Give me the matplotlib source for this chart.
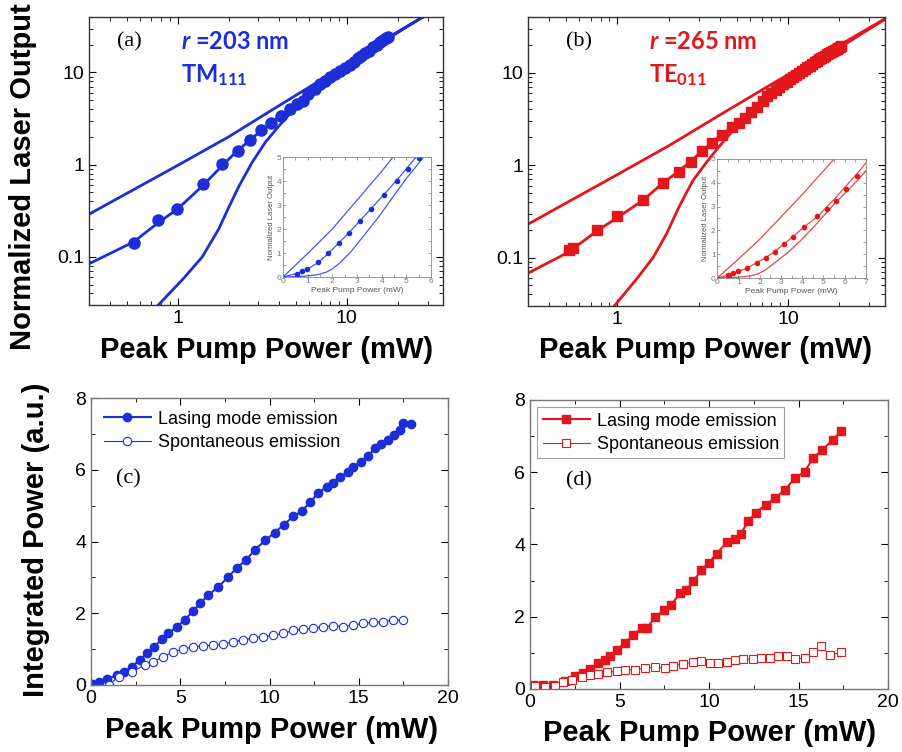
import numpy as np
import matplotlib
matplotlib.use("Agg")
import matplotlib.pyplot as plt
from matplotlib.ticker import FixedLocator, FixedFormatter, NullFormatter, LogLocator, MultipleLocator

plt.rcParams["font.family"] = ["Liberation Sans", "DejaVu Sans"]
plt.rcParams["mathtext.fontset"] = "custom"
plt.rcParams["mathtext.rm"] = "Lato:bold"
plt.rcParams["mathtext.it"] = "Lato:bold:italic"
plt.rcParams["mathtext.bf"] = "Lato:bold"

BLUE = "#1c2ed8"
RED = "#e3161c"

# ---- panel (a): r = 203 nm, TM111 (log-log) ----
a_x = [0.55, 0.77, 0.99, 1.42, 1.84, 2.26, 2.68, 3.12, 3.57, 4.11, 4.62, 5.06, 5.5, 5.93,
       6.48, 6.94, 7.43, 7.94, 8.5, 9.1, 9.73, 10.4, 11.0, 11.7, 12.2, 12.8, 13.5, 14.3,
       15.0, 15.6, 16.4, 17.1, 17.5]
a_y = [0.14, 0.25, 0.33, 0.62, 1.02, 1.42, 1.84, 2.35, 2.84, 3.4, 4.02, 4.5, 4.95, 5.85,
       6.62, 7.5, 8.15, 8.87, 9.63, 10.5, 11.1, 12.1, 13.1, 14.3, 15.2, 16.1, 17.2, 18.8,
       19.9, 21.2, 22.5, 23.5, 24.1]
a_up_x = [0.3, 1, 2, 4, 8, 15, 28, 32]
a_up_y = [0.29, 0.98, 2.0, 4.4, 9.6, 19.5, 40, 46]
a_mid_x = [0.3, 0.55, 0.77, 1.0, 1.42, 1.84, 2.26, 2.68, 3.12, 3.57, 4.11, 4.75, 5.4, 6.5,
           8, 10, 13, 17.5, 32]
a_mid_y = [0.084, 0.145, 0.235, 0.33, 0.6, 0.98, 1.42, 1.85, 2.34, 2.85, 3.45, 4.2, 5.0, 6.6,
           8.8, 11.9, 16.6, 23.8, 46]
a_lo_x = [0.77, 1.1, 1.4, 1.75, 2.0, 2.3, 2.75, 3.3, 3.95, 4.5, 5.0, 5.7, 6.5, 8, 10, 13,
          17.5, 32]
a_lo_y = [0.03, 0.06, 0.1, 0.2, 0.34, 0.58, 1.05, 1.75, 2.6, 3.4, 4.1, 5.0, 6.2, 8.6, 11.8,
          16.5, 23.8, 46]

# ---- panel (b): r = 265 nm, TE011 (log-log) ----
b_x = [0.52, 0.55, 0.76, 0.99, 1.42, 1.86, 2.29, 2.72, 3.15, 3.58, 4.1, 4.7, 5.15, 5.6,
       6.05, 6.6, 7.1, 7.55, 8.0, 8.45, 8.9, 9.35, 9.8, 10.25, 10.7, 11.15, 11.6, 12.05,
       12.5, 12.95, 13.4, 13.85, 14.3, 14.75, 15.2, 15.65, 16.1, 16.55, 17.0, 17.45, 17.9,
       18.35, 18.8, 19.25, 19.7, 20.1, 20.4]
b_y = [0.12, 0.127, 0.2, 0.28, 0.42, 0.64, 0.84, 1.09, 1.42, 1.72, 2.14, 2.6, 2.88, 3.25,
       3.72, 4.3, 5.0, 5.55, 6.05, 6.55, 7.0, 7.55, 8.0, 8.5, 9.0, 9.55, 10.0, 10.5, 11.0,
       11.5, 11.95, 12.45, 12.9, 13.4, 13.9, 14.3, 14.8, 15.3, 15.8, 16.3, 16.8, 17.2, 17.7,
       18.2, 18.7, 19.1, 19.5]
b_up_x = [0.3, 1, 2, 4, 8, 15, 30, 40]
b_up_y = [0.23, 0.79, 1.62, 3.5, 7.5, 14.6, 30.6, 41.6]
b_mid_x = [0.3, 0.52, 0.76, 1.0, 1.42, 1.83, 2.27, 2.7, 3.1, 3.55, 4.1, 4.75, 5.6, 6.6, 7.2,
           9, 12, 16, 20.4, 40]
b_mid_y = [0.068, 0.115, 0.195, 0.27, 0.42, 0.63, 0.85, 1.1, 1.4, 1.72, 2.15, 2.6, 3.4, 4.4,
           5.05, 7.0, 10.2, 14.5, 19.3, 41.6]
b_lo_x = [0.96, 1.29, 1.62, 1.94, 2.31, 2.77, 3.3, 3.96, 4.6, 5.5, 6.6, 7.5, 9, 12, 16, 20,
          40]
b_lo_y = [0.03, 0.058, 0.1, 0.18, 0.36, 0.68, 1.05, 1.6, 2.2, 3.1, 4.1, 5.0, 6.5, 9.5, 13.8,
          18.6, 41.6]

# ---- panel (c): integrated power, blue ----
c_las_x = [0.06, 0.43, 0.9, 1.45, 1.86, 2.29, 2.72, 3.13, 3.54, 3.97, 4.34, 4.81, 5.24, 5.74,
           6.11, 6.58, 7.14, 7.66, 8.16, 8.69, 9.19, 9.75, 10.3, 10.8, 11.33, 11.8, 12.26,
           12.73, 13.2, 13.57, 13.94, 14.4, 14.7, 15.15, 15.53, 15.9, 16.27, 16.64, 17.0,
           17.3, 17.5, 17.9]
c_las_y = [0.03, 0.07, 0.16, 0.28, 0.37, 0.51, 0.7, 0.88, 1.07, 1.27, 1.44, 1.63, 1.81, 2.07,
           2.28, 2.51, 2.74, 3.0, 3.26, 3.49, 3.77, 4.03, 4.25, 4.47, 4.7, 4.84, 5.09, 5.35,
           5.53, 5.63, 5.8, 5.95, 6.09, 6.23, 6.39, 6.6, 6.73, 6.84, 6.98, 7.12, 7.3, 7.28]
c_spo_x = [0.99, 1.55, 2.29, 3.04, 3.5, 4.06, 4.62, 5.18, 5.74, 6.3, 6.86, 7.42, 7.98, 8.53,
           9.09, 9.65, 10.2, 10.77, 11.33, 11.9, 12.45, 13.0, 13.57, 14.13, 14.7, 15.24,
           15.8, 16.36, 16.9, 17.48]
c_spo_y = [0.0, 0.23, 0.37, 0.56, 0.65, 0.79, 0.93, 1.0, 1.07, 1.09, 1.11, 1.14, 1.21, 1.26,
           1.32, 1.35, 1.38, 1.44, 1.52, 1.55, 1.58, 1.63, 1.65, 1.63, 1.67, 1.72, 1.75,
           1.77, 1.8, 1.81]

# ---- panel (d): integrated power, red ----
d_las_x = [0.19, 0.74, 1.3, 1.95, 2.51, 2.98, 3.35, 3.81, 4.19, 4.47, 4.84, 5.3, 5.77, 6.23,
           6.51, 7.01, 7.48, 7.9, 8.37, 8.74, 9.12, 9.58, 10.0, 10.42, 10.98, 11.44, 11.76,
           12.19, 12.6, 13.17, 13.67, 14.23, 14.79, 15.35, 15.8, 16.33, 16.9, 17.4]
d_las_y = [0.12, 0.12, 0.12, 0.21, 0.35, 0.44, 0.55, 0.72, 0.81, 0.9, 1.09, 1.27, 1.5, 1.69,
           1.69, 1.99, 2.19, 2.33, 2.65, 2.75, 2.98, 3.3, 3.5, 3.74, 4.06, 4.15, 4.29, 4.64,
           4.88, 5.1, 5.28, 5.51, 5.83, 6.02, 6.39, 6.62, 6.89, 7.15]
d_spo_x = [0.28, 0.84, 1.4, 1.86, 2.33, 2.88, 3.35, 3.81, 4.28, 4.84, 5.3, 5.86, 6.42, 6.98,
           7.53, 8.0, 8.56, 9.12, 9.58, 10.05, 10.5, 10.98, 11.44, 11.9, 12.47, 12.93, 13.4,
           13.86, 14.33, 14.79, 15.35, 15.8, 16.23, 16.74, 17.4]
d_spo_y = [0.07, 0.05, 0.09, 0.18, 0.26, 0.33, 0.38, 0.42, 0.46, 0.49, 0.53, 0.53, 0.58, 0.6,
           0.58, 0.65, 0.69, 0.74, 0.78, 0.72, 0.72, 0.74, 0.81, 0.83, 0.83, 0.86, 0.86, 0.9,
           0.9, 0.83, 0.86, 1.01, 1.18, 0.95, 1.01]

fig = plt.figure(figsize=(9.02, 7.52), dpi=100)


def style_ticks(ax, size=13):
    ax.tick_params(which="both", direction="in", top=True, right=True, labelsize=size)
    ax.tick_params(which="major", length=5, width=0.8)
    ax.tick_params(which="minor", length=3, width=0.6)
    for s in ax.spines.values():
        s.set_linewidth(1.0)
        s.set_color("#333333")


def log_panel(rect, color, xs, ys, marker, curves, ms):
    ax = fig.add_axes(rect)
    ax.set_xscale("log")
    ax.set_yscale("log")
    for cx, cy in curves:
        ax.plot(cx, cy, color=color, lw=2.0, zorder=2)
    ax.plot(xs, ys, ls="none", marker=marker, ms=ms, color=color, zorder=3)
    ax.set_xlim(0.3, 37)
    ax.set_ylim(0.03, 40)
    ax.xaxis.set_major_locator(FixedLocator([1, 10]))
    ax.xaxis.set_major_formatter(FixedFormatter(["1", "10"]))
    ax.xaxis.set_minor_locator(LogLocator(base=10, subs=np.arange(2, 10)))
    ax.xaxis.set_minor_formatter(NullFormatter())
    ax.yaxis.set_major_locator(FixedLocator([0.1, 1, 10]))
    ax.yaxis.set_major_formatter(FixedFormatter(["0.1", "1", "10"]))
    ax.yaxis.set_minor_locator(LogLocator(base=10, subs=np.arange(2, 10)))
    ax.yaxis.set_minor_formatter(NullFormatter())
    style_ticks(ax, 14)
    return ax


def inset(rect, color, xs, ys, curves, xmax):
    ax = fig.add_axes(rect)
    for cx, cy in curves:
        ax.plot([0] + cx, [0] + cy, color=color, lw=0.9, alpha=0.8)
    ax.plot(xs, ys, ls="none", marker="o", ms=3, color=color)
    ax.set_xlim(0, xmax)
    ax.set_ylim(0, 5)
    ax.xaxis.set_major_locator(MultipleLocator(1))
    ax.xaxis.set_minor_locator(MultipleLocator(0.5))
    ax.yaxis.set_major_locator(MultipleLocator(1))
    ax.yaxis.set_minor_locator(MultipleLocator(0.5))
    ax.tick_params(which="both", direction="in", top=True, right=True,
                   labelsize=6, colors="#777777", length=2, width=0.5, pad=1)
    for s in ax.spines.values():
        s.set_linewidth(0.6)
        s.set_color("#888888")
    ax.set_xlabel("Peak Pump Power (mW)", fontsize=6, color="#555555", labelpad=1)
    ax.set_ylabel("Normalized Laser Output", fontsize=5.5, color="#555555", labelpad=1)
    return ax


# (a)
curves_a = [(a_up_x, a_up_y), (a_mid_x, a_mid_y), (a_lo_x, a_lo_y)]
ax_a = log_panel([0.0987, 0.5944, 0.3925, 0.383], BLUE, a_x, a_y, "o", curves_a, 8)
ax_a.text(0.08, 0.915, "(a)", transform=ax_a.transAxes, family="Liberation Serif",
          fontsize=16, va="center")
ax_a.text(0.26, 0.915, r"$r$ =203 nm", transform=ax_a.transAxes, fontsize=17,
          color=BLUE, fontweight="bold", family="Lato", va="center")
ax_a.text(0.26, 0.8, r"TM$_{111}$", transform=ax_a.transAxes, fontsize=17,
          color=BLUE, fontweight="bold", family="Lato", va="center")
inset([0.3137, 0.6316, 0.1641, 0.1596], BLUE, a_x, a_y, curves_a, 6)

# (b)
curves_b = [(b_up_x, b_up_y), (b_mid_x, b_mid_y), (b_lo_x, b_lo_y)]
ax_b = log_panel([0.5854, 0.5931, 0.3958, 0.3843], RED, b_x, b_y, "s", curves_b, 6.5)
ax_b.text(0.105, 0.915, "(b)", transform=ax_b.transAxes, family="Liberation Serif",
          fontsize=16, va="center")
ax_b.text(0.34, 0.915, r"$r$ =265 nm", transform=ax_b.transAxes, fontsize=17,
          color=RED, fontweight="bold", family="Lato", va="center")
ax_b.text(0.34, 0.8, r"TE$_{011}$", transform=ax_b.transAxes, fontsize=17,
          color=RED, fontweight="bold", family="Lato", va="center")
inset([0.7949, 0.6303, 0.1652, 0.1583], RED, b_x, b_y, curves_b, 7)


def lin_panel(rect, color, lx, ly, sx, sy, marker, ms, frame):
    ax = fig.add_axes(rect)
    ax.plot(lx, ly, color=color, lw=1.5, marker=marker, ms=ms,
            label="Lasing mode emission")
    ax.plot(sx, sy, color=color, lw=0.8, marker=marker, ms=ms, mfc="white", mew=0.8,
            label="Spontaneous emission")
    ax.set_xlim(0, 20)
    ax.set_ylim(0, 8)
    ax.xaxis.set_major_locator(MultipleLocator(5))
    ax.xaxis.set_minor_locator(MultipleLocator(2.5))
    ax.yaxis.set_major_locator(MultipleLocator(2))
    ax.yaxis.set_minor_locator(MultipleLocator(1))
    style_ticks(ax, 14)
    for s in ax.spines.values():
        s.set_color("#777777")
    leg = ax.legend(loc="upper left", bbox_to_anchor=(0.0, 1.0), fontsize=13,
                    frameon=frame, fancybox=False, handlelength=2.6, handletextpad=0.4,
                    borderaxespad=0.4, labelspacing=0.35, borderpad=0.3)
    if frame:
        leg.get_frame().set_edgecolor("#888888")
        leg.get_frame().set_linewidth(0.8)
    return ax


ax_c = lin_panel([0.1009, 0.0891, 0.3958, 0.3816], BLUE, c_las_x, c_las_y,
                 c_spo_x, c_spo_y, "o", 6, False)
ax_c.text(0.07, 0.72, "(c)", transform=ax_c.transAxes, family="Liberation Serif",
          fontsize=16, va="center")
ax_d = lin_panel([0.5876, 0.0838, 0.3969, 0.3843], RED, d_las_x, d_las_y,
                 d_spo_x, d_spo_y, "s", 6, True)
ax_d.text(0.1, 0.72, "(d)", transform=ax_d.transAxes, family="Liberation Serif",
          fontsize=16, va="center")

# axis labels
lab = dict(fontsize=21, fontweight="bold", ha="center", va="center")
fig.text(267 / 902, 1 - 350 / 752, "Peak Pump Power (mW)", **lab)
fig.text(706 / 902, 1 - 350 / 752, "Peak Pump Power (mW)", **lab)
fig.text(272 / 902, 1 - 730 / 752, "Peak Pump Power (mW)", **lab)
fig.text(710 / 902, 1 - 733 / 752, "Peak Pump Power (mW)", **lab)
fig.text(23 / 902, 1 - 177 / 752, "Normalized Laser Output", rotation=90, **lab)
fig.text(36 / 902, 1 - 540 / 752, "Integrated Power (a.u.)", rotation=90, **lab)

fig.savefig("out.png", dpi=100)
